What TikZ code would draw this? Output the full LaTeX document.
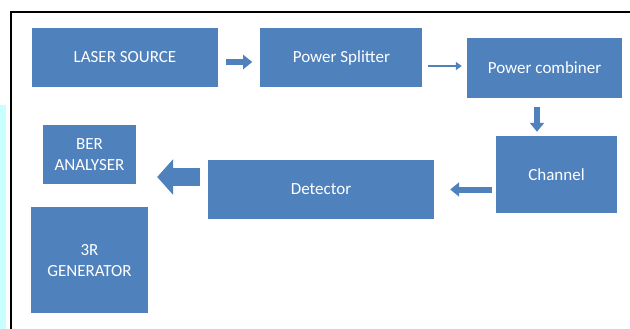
\documentclass[tikz,border=0pt]{standalone}
\usepackage{fontspec}
\setmainfont{Carlito}
\usepackage{xcolor}
\usetikzlibrary{positioning, arrows.meta, calc}

\definecolor{boxblue}{HTML}{4F81BD}
\definecolor{stripcyan}{HTML}{C8FFFF}

\begin{document}
\begin{tikzpicture}[
    x=1pt, y=-1pt,
    bluebox/.style={rectangle, fill=boxblue, inner sep=0pt, text=white, align=center,
        font=\fontsize{17}{21}\selectfont},
    fatarrow/.style={draw=boxblue, line width=6pt, -{Triangle[length=9pt, width=14pt]}},
    thinarrow/.style={draw=boxblue, line width=2.6pt, -{Triangle[length=6pt, width=8pt]}},
    bigarrow/.style={draw=boxblue, line width=18pt, -{Triangle[length=16pt, width=35pt]}},
]
\useasboundingbox (0,0) rectangle (630,329);
\fill[stripcyan] (0,105) rectangle (6,329);
\draw[line width=1.2pt] (630,12) -| (11,329);

\node[bluebox, minimum width=186pt, minimum height=59pt](laser) at (125,57.5){LASER SOURCE};
\node[bluebox, minimum width=162pt, minimum height=59pt](splitter)[right = 42pt of laser]{Power Splitter};
\node[bluebox, minimum width=155pt, minimum height=60pt](combiner) at (544.5,68){Power combiner};
\node[bluebox, minimum width=121pt, minimum height=77pt](channel) at (556.5,174.5){Channel};
\node[bluebox, minimum width=226pt, minimum height=59pt](detector) at (321,189.5){Detector};
\node[bluebox, minimum width=93pt, minimum height=59pt](ber) at (89.5,154.5){BER\\ANALYSER};
\node[bluebox, minimum width=117pt, minimum height=106pt](regen)[below = 23pt of ber]{3R\\GENERATOR};

\draw[fatarrow, shorten <=8pt, shorten >=8pt] ($(laser.east)+(0,4.5)$) -- ($(laser.east -| splitter.west)+(0,4.5)$);
\draw[thinarrow, shorten <=5pt, shorten >=5pt] ($(splitter.east)+(0,8.5)$) -- ($(splitter.east -| combiner.west)+(0,8.5)$);
\draw[fatarrow, shorten <=9pt, shorten >=4pt] ($(combiner.south)+(-7.5,0)$) -- ($(combiner.south |- channel.north)+(-7.5,0)$);
\draw[fatarrow, shorten <=4pt, shorten >=16pt] (detector -| channel.west) -- (detector.east);
\draw[bigarrow, shorten <=8pt, shorten >=21pt] ($(detector.west)+(0,-12.5)$) -- ($(detector.west -| ber.east)+(0,-12.5)$);
\end{tikzpicture}
\end{document}
